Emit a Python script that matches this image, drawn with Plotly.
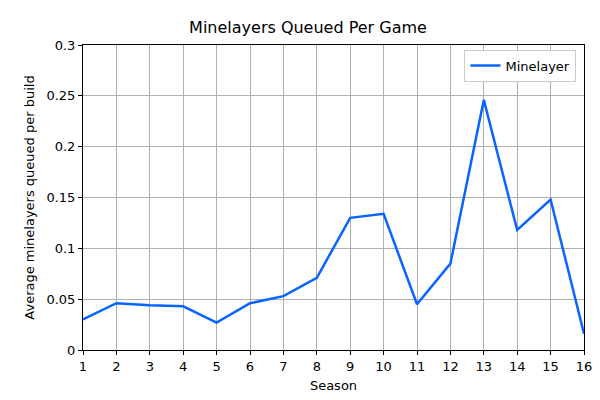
import plotly.graph_objects as go

seasons = list(range(1, 17))
minelayer = [0.030, 0.046, 0.044, 0.043, 0.027, 0.046, 0.053, 0.071,
             0.130, 0.134, 0.045, 0.085, 0.246, 0.118, 0.148, 0.016]
y_ticks = [0, 0.05, 0.1, 0.15, 0.2, 0.25, 0.3]
y_labels = ["0", "0.05", "0.1", "0.15", "0.2", "0.25", "0.3"]

fig = go.Figure(go.Scatter(x=seasons, y=minelayer, mode="lines", name="Minelayer",
                           line=dict(color="#0865ff", width=2.5)))
axis = dict(showline=True, linecolor="black", linewidth=1, mirror=True,
            showgrid=True, gridcolor="#b0b0b0", gridwidth=1, zeroline=False,
            ticks="outside", ticklen=4, tickcolor="black", automargin=False,
            tickfont=dict(size=13, color="black"))
fig.update_layout(
    width=600, height=400, paper_bgcolor="white", plot_bgcolor="white",
    margin=dict(l=75, r=24, t=37, b=58, autoexpand=False),
    font=dict(family="DejaVu Sans", color="black"),
    title=dict(text="Minelayers Queued Per Game", x=0.5, xanchor="center",
               y=0.965, yanchor="top", font=dict(size=16), automargin=False),
    xaxis=dict(axis, range=[1, 16], tickvals=seasons,
               title=dict(text="Season", font=dict(size=13), standoff=8)),
    yaxis=dict(axis, range=[0, 0.3], tickvals=y_ticks, ticktext=y_labels,
               title=dict(text="Average minelayers queued per build", font=dict(size=13), standoff=8)),
    showlegend=True,
    legend=dict(x=0.985, y=0.985, xanchor="right", yanchor="top",
                bgcolor="white", bordercolor="#cccccc", borderwidth=1,
                font=dict(size=13)),
)
fig.write_html("out.html")
